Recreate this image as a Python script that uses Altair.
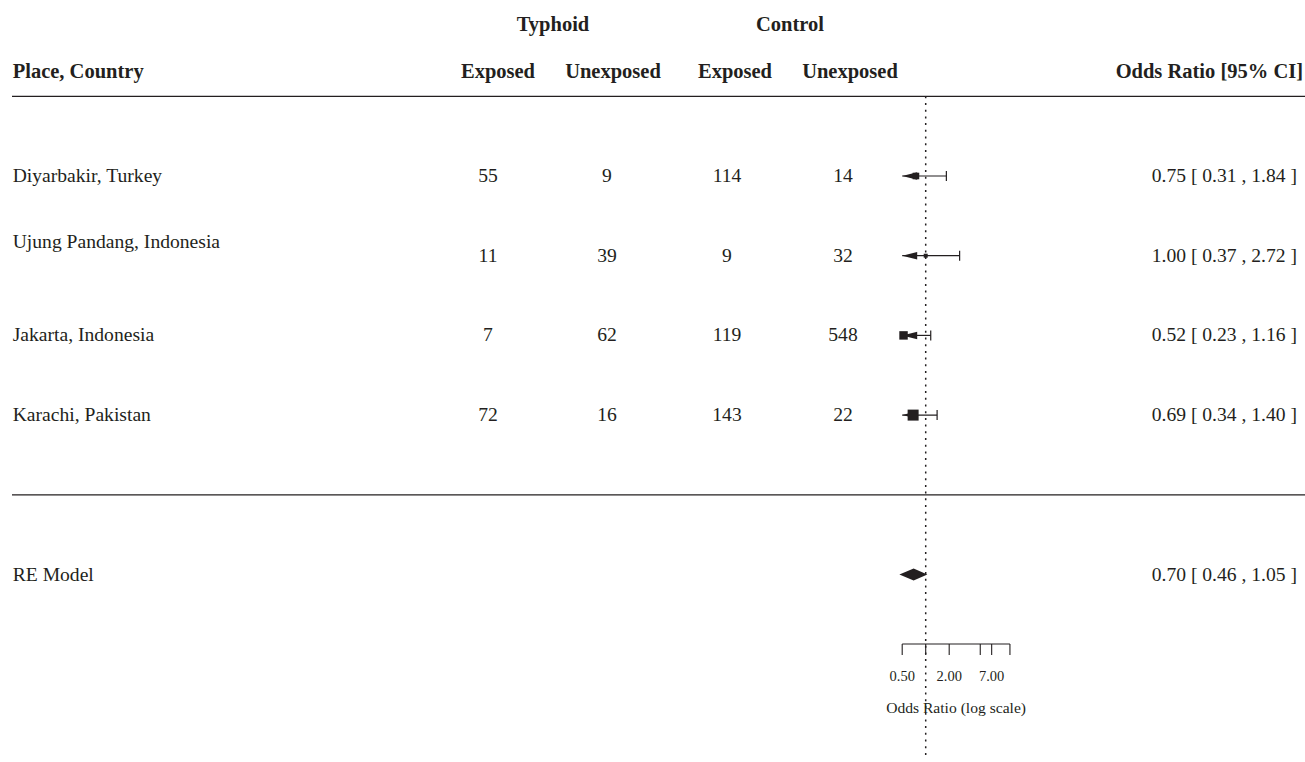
import math
import altair as alt
import pandas as pd

# ---- study data -------------------------------------------------------------
places = ["Diyarbakir, Turkey", "Ujung Pandang, Indonesia",
          "Jakarta, Indonesia", "Karachi, Pakistan"]
typhoid_exposed = [55, 11, 7, 72]
typhoid_unexposed = [9, 39, 62, 16]
control_exposed = [114, 9, 119, 143]
control_unexposed = [14, 32, 548, 22]
odds_ratio = [0.75, 1.00, 0.52, 0.69]
ci_lower = [0.31, 0.37, 0.23, 0.34]
ci_upper = [1.84, 2.72, 1.16, 1.40]
weights = [21.8, 17.3, 26.4, 34.5]          # relative study weights (%)

pooled_label = "RE Model"
pooled_or = 0.70
pooled_lower = 0.46
pooled_upper = 1.05

axis_ticks = [0.5, 1, 2, 5, 7, 12]
axis_tick_labels = ["0.50", "", "2.00", "", "7.00", ""]

# ---- layout -----------------------------------------------------------------
W, H = 1305, 762
PX_PER_LOG = 33.9            # pixels per unit of ln(OR)
NULL_PX = 925.7              # horizontal pixel where OR = 1
ROW_PX = 79.7                # pixels between rows
TOP_ROW_PX = 176.0           # pixel centre of the first study row
N = len(places)

x_domain = [math.exp(-NULL_PX / PX_PER_LOG), math.exp((W - NULL_PX) / PX_PER_LOG)]
y_domain = [N - (H - TOP_ROW_PX) / ROW_PX, N + TOP_ROW_PX / ROW_PX]

alim_low, alim_high = axis_ticks[0], axis_ticks[-1]
AXIS_ROW = -1.872
TICK_END_ROW = -2.01
TICK_LABEL_ROW = -2.29
AXIS_TITLE_ROW = -2.675
HEADER_ROW = 5.31
GROUP_ROW = 5.90
DIAMOND_HALF = 0.075

INK = "#231f20"
FONT = "Liberation Serif"
FS = 19.6
FS_BOLD = 20.5

xs = alt.Scale(type="log", domain=x_domain)
ys = alt.Scale(domain=y_domain)
X = lambda f: alt.X(f, type="quantitative", scale=xs, axis=None)
Y = lambda f: alt.Y(f, type="quantitative", scale=ys, axis=None)

rows = list(range(N, 0, -1))
studies = pd.DataFrame({
    "place": places,
    "te": typhoid_exposed, "tu": typhoid_unexposed,
    "ce": control_exposed, "cu": control_unexposed,
    "or": odds_ratio, "lo": ci_lower, "hi": ci_upper,
    "w": weights, "row": rows,
})
studies["lo_clip"] = studies["lo"].clip(lower=alim_low)
studies["clipped"] = studies["lo"] < alim_low
studies["ci_text"] = [f"{o:.2f} [ {l:.2f} , {h:.2f} ]"
                      for o, l, h in zip(odds_ratio, ci_lower, ci_upper)]
studies["idx"] = range(N)

base = alt.Chart(studies)

# confidence-interval segments, clipped at the lower axis limit
ci = base.mark_rule(color=INK, strokeWidth=1.2).encode(
    x=X("lo_clip"), x2="hi", y=Y("row"))
caps = base.mark_point(shape="M0,-1L0,1", filled=False, size=100,
                       color=INK, strokeWidth=1.2, opacity=1).encode(
    x=X("hi"), y=Y("row"))
arrows = base.transform_filter("datum.clipped").mark_point(
    shape="M0,0L2,-0.5L2,0.5Z", filled=True, size=225, color=INK,
    opacity=1, strokeWidth=0).encode(x=X("lo_clip"), y=Y("row"))
squares = base.mark_square(color=INK, opacity=1).encode(
    x=X("or"), y=Y("row"),
    size=alt.Size("w:Q", scale=alt.Scale(domain=[min(weights), max(weights)],
                                         range=[16, 121]), legend=None))

# pooled estimate diamond
pooled_row = -1
diamond_df = pd.DataFrame({
    "x": [pooled_lower, pooled_or, pooled_upper],
    "y": [pooled_row, pooled_row + DIAMOND_HALF, pooled_row],
    "y2": [pooled_row, pooled_row - DIAMOND_HALF, pooled_row],
})
diamond = alt.Chart(diamond_df).mark_area(color=INK, opacity=1).encode(
    x=X("x"), y=Y("y"), y2="y2")

# reference line at OR = 1
null_df = pd.DataFrame({"x": [1.0], "y": [N + 1], "y2": [-3.30]})
null_line = alt.Chart(null_df).mark_rule(
    color=INK, strokeWidth=1.5, strokeDash=[2, 4.7]).encode(
    x=X("x"), y=Y("y"), y2="y2")

# horizontal separators
sep_df = pd.DataFrame({"y": [N + 1, 0]})
separators = alt.Chart(sep_df).mark_rule(color=INK, strokeWidth=1.3).encode(
    y=Y("y"), x=alt.value(12), x2=alt.value(W))

# x axis drawn in data space
ticks_df = pd.DataFrame({"t": axis_ticks, "lab": axis_tick_labels,
                         "y": AXIS_ROW, "y2": TICK_END_ROW,
                         "yl": TICK_LABEL_ROW})
axis_line = alt.Chart(pd.DataFrame({"a": [alim_low], "b": [alim_high],
                                    "y": [AXIS_ROW]})).mark_rule(
    color=INK, strokeWidth=1.1).encode(x=X("a"), x2="b", y=Y("y"))
axis_ticks_m = alt.Chart(ticks_df).mark_rule(color=INK, strokeWidth=1.1).encode(
    x=X("t"), y=Y("y"), y2="y2")
axis_labels_m = alt.Chart(ticks_df).mark_text(
    font=FONT, fontSize=14.5, color=INK, baseline="middle").encode(
    x=X("t"), y=Y("yl"), text="lab:N")
axis_title = alt.Chart(pd.DataFrame({
    "x": [math.sqrt(alim_low * alim_high)], "y": [AXIS_TITLE_ROW],
    "t": ["Odds Ratio (log scale)"]})).mark_text(
    font=FONT, fontSize=15.6, color=INK, baseline="middle").encode(
    x=X("x"), y=Y("y"), text="t:N")

# text columns
def txt(field, xpx, align="center", data=base, **kw):
    return data.mark_text(font=FONT, fontSize=FS, color=INK, align=align,
                          baseline="middle", **kw).encode(
        x=alt.value(xpx), y=Y("row"), text=f"{field}:N")

labels_main = txt("place", 12.7, "left",
                  data=base.transform_filter("datum.idx != 1"))
labels_shift = txt("place", 12.7, "left",
                   data=base.transform_filter("datum.idx == 1"), dy=-14)
col_te = txt("te", 488)
col_tu = txt("tu", 607)
col_ce = txt("ce", 727)
col_cu = txt("cu", 843)
col_ci = txt("ci_text", 1297, "right")

pooled_text_df = pd.DataFrame({
    "row": [pooled_row], "name": [pooled_label],
    "ci_text": [f"{pooled_or:.2f} [ {pooled_lower:.2f} , {pooled_upper:.2f} ]"]})
pooled_name = txt("name", 12.7, "left", data=alt.Chart(pooled_text_df))
pooled_ci = txt("ci_text", 1297, "right", data=alt.Chart(pooled_text_df))

# header
hdr = pd.DataFrame({
    "t": ["Place, Country", "Exposed", "Unexposed", "Exposed", "Unexposed",
          "Odds Ratio [95% CI]", "Typhoid", "Control"],
    "row": [HEADER_ROW] * 6 + [GROUP_ROW] * 2,
})
def head(i, xpx, align="center"):
    return alt.Chart(hdr.iloc[[i]]).mark_text(
        font=FONT, fontSize=FS_BOLD, fontWeight="bold", color=INK, align=align,
        baseline="middle").encode(x=alt.value(xpx), y=Y("row"), text="t:N")

headers = [head(0, 12.7, "left"), head(1, 498), head(2, 613), head(3, 735),
           head(4, 850), head(5, 1303, "right"), head(6, 553), head(7, 790)]

chart = alt.layer(
    separators, null_line, ci, caps, arrows, squares, diamond,
    axis_line, axis_ticks_m, axis_labels_m, axis_title,
    labels_main, labels_shift, col_te, col_tu, col_ce, col_cu, col_ci,
    pooled_name, pooled_ci, *headers,
).properties(
    width=W, height=H, padding=0, autosize="none", background="white",
).configure_view(stroke=None)

chart.save("out.html", embed_options={"renderer": "svg", "actions": False})
